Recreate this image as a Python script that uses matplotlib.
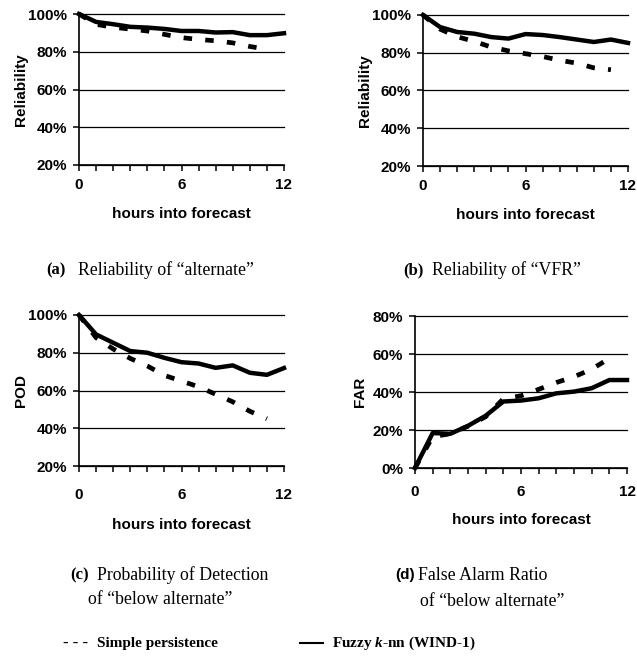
import matplotlib
matplotlib.use("Agg")
import matplotlib.pyplot as plt
from matplotlib.ticker import MultipleLocator, FixedLocator, FuncFormatter
from matplotlib.lines import Line2D

plt.rcParams["mathtext.fontset"] = "custom"
plt.rcParams["mathtext.rm"] = "Liberation Serif:bold"
plt.rcParams["mathtext.it"] = "Liberation Serif:italic:bold"
plt.rcParams["mathtext.bf"] = "Liberation Serif:bold"

hours = list(range(13))
hours_p = list(range(12))

# (a) Reliability of "alternate"
rel_alt_fuzzy = [100, 95.8, 94.6, 93.2, 92.8, 92.1, 91.0, 91.0, 90.2, 90.4, 88.8, 88.8, 89.8]
rel_alt_pers = [100, 94.5, 93.0, 92.0, 91.0, 89.2, 87.5, 86.5, 85.8, 84.7, 82.8, 81.3]
# (b) Reliability of "VFR"
rel_vfr_fuzzy = [100, 93.6, 91.0, 90.1, 88.3, 87.5, 89.9, 89.4, 88.3, 87.0, 85.7, 87.0, 85.2]
rel_vfr_pers = [100, 92.5, 88.5, 86.0, 83.0, 81.0, 79.5, 78.0, 76.0, 74.5, 72.0, 71.0]
# (c) POD of "below alternate"
pod_fuzzy = [100, 89.7, 85.3, 80.9, 80.0, 77.3, 75.0, 74.3, 72.0, 73.3, 69.4, 68.3, 71.9]
pod_pers = [100, 88, 82, 77, 73, 68, 65, 62, 58, 54, 49, 45]
# (d) FAR of "below alternate"
far_fuzzy = [0, 18.4, 18.0, 22.2, 27.5, 35.0, 35.5, 36.7, 39.3, 40.2, 42.0, 46.3, 46.3]
far_pers = [0, 16.5, 18.0, 22.0, 27.0, 36.4, 38.0, 41.4, 45.0, 48.0, 52.0, 57.7]

ylabels = ["Reliability", "Reliability", "POD", "FAR"]
ylims = [(20, 100), (20, 100), (20, 100), (0, 80)]
captions = [("(a)", "Reliability of \u201calternate\u201d", None),
            ("(b)", "Reliability of \u201cVFR\u201d", None),
            ("(c)", "Probability of Detection", "of \u201cbelow alternate\u201d"),
            ("(d)", "False Alarm Ratio", "of \u201cbelow alternate\u201d")]
legend_labels = ["Simple persistence", "Fuzzy $k$-nn (WIND-1)"]

W, H = 637, 657
fig = plt.figure(figsize=(W / 100, H / 100), dpi=100)

def rect(l, r, t, b):
    return [l / W, 1 - b / H, (r - l) / W, (b - t) / H]

rects = [rect(79, 284, 14, 165), rect(423, 628, 15, 166),
         rect(79, 284, 315, 466), rect(415, 627, 316, 468)]
xpads = [5, 5, 11, 8]
xlabelpads = [11, 11, 12, 10]
ylabelpads = [0, 0, 0, 4]
fuzzy = [rel_alt_fuzzy, rel_vfr_fuzzy, pod_fuzzy, far_fuzzy]
pers = [rel_alt_pers, rel_vfr_pers, pod_pers, far_pers]

sans = "Liberation Sans"
serif = "Liberation Serif"

for i in range(4):
    ax = fig.add_axes(rects[i])
    ax.set_xlim(0, 12)
    ax.set_ylim(*ylims[i])
    for v in range(ylims[i][0], ylims[i][1] + 1, 20):
        ax.axhline(v, color="black", lw=0.9, zorder=1, clip_on=False)
    ax.plot(hours_p, pers[i], color="black", lw=3.4, dashes=(1.8, 2.8), zorder=3,
            dash_capstyle="butt", clip_on=False)
    ax.plot(hours, fuzzy[i], color="black", lw=3.2, zorder=4, clip_on=False)
    for s in ["top", "right"]:
        ax.spines[s].set_visible(False)
    ax.spines["left"].set_linewidth(1.2)
    ax.spines["bottom"].set_linewidth(1.2)
    ax.xaxis.set_major_locator(FixedLocator([0, 6, 12]))
    ax.xaxis.set_minor_locator(MultipleLocator(1))
    ax.yaxis.set_major_locator(MultipleLocator(20))
    ax.yaxis.set_major_formatter(FuncFormatter(lambda v, p: f"{int(v)}%"))
    ax.tick_params(axis="both", which="both", direction="out", length=4.5, width=1.1, color="black")
    ax.tick_params(axis="x", pad=xpads[i])
    ax.tick_params(axis="y", pad=4)
    for lab in ax.get_xticklabels() + ax.get_yticklabels():
        lab.set_fontfamily(sans)
        lab.set_fontweight("bold")
        lab.set_fontsize(11)
    ax.set_ylabel(ylabels[i], fontfamily=sans, fontweight="bold", fontsize=11, labelpad=ylabelpads[i])
    ax.set_xlabel("hours into forecast", fontfamily=sans, fontweight="bold", fontsize=11,
                  labelpad=xlabelpads[i])

def ftext(x, y, s, **kw):
    fig.text(x / W, 1 - y / H, s, va="center", ha="left", **kw)

# (label x, text x, y, second line x, second line y)
cap_pos = [(46, 78, 270, None, None), (403, 432, 270, None, None),
           (70, 97, 575, 88, 600), (395, 418, 575, 420, 602)]
lab_fonts = [serif, serif, serif, sans]
for (lab, line1, line2), (lx, tx, y, x2, y2), lf in zip(captions, cap_pos, lab_fonts):
    ftext(lx, y, lab, fontfamily=lf, fontsize=12 if lf == serif else 11, fontweight="bold")
    ftext(tx, y, line1, fontfamily=serif, fontsize=12.8)
    if line2:
        ftext(x2, y2, line2, fontfamily=serif, fontsize=12.8)

ftext(63, 643, "- - -", fontfamily=serif, fontsize=12, fontweight="bold")
ftext(97, 643, legend_labels[0], fontfamily=serif, fontsize=11, fontweight="bold")
fig.add_artist(Line2D([300 / W, 323 / W], [1 - 643 / H, 1 - 643 / H], color="black", lw=1.5))
ftext(332, 643, "Fuzzy $\\mathit{k}$-nn (WIND-1)", fontfamily=serif, fontsize=11, fontweight="bold")

fig.savefig("out.png", dpi=100)
